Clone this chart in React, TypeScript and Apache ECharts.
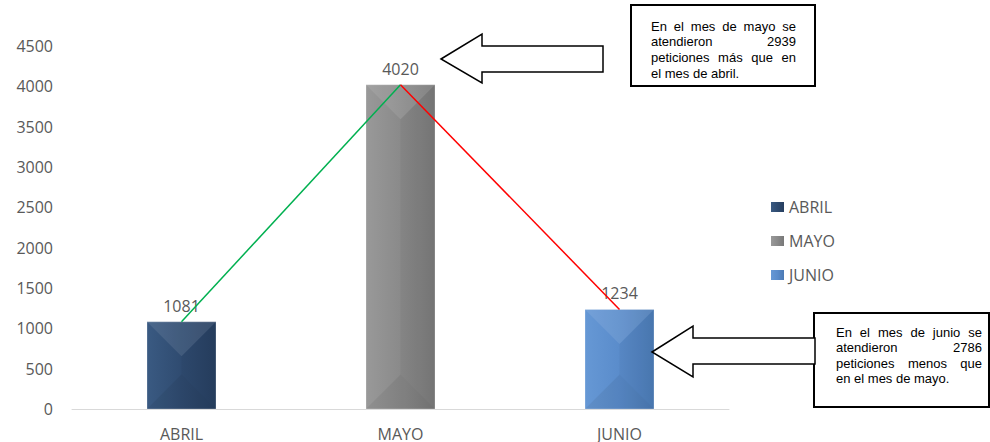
import React, { useEffect, useRef } from "react";
import * as echarts from "echarts";

const categories = ["ABRIL", "MAYO", "JUNIO"];
const seriesNames = ["ABRIL", "MAYO", "JUNIO"];
const values = [1081, 4020, 1234];
const yTicks = { min: 0, max: 4500, interval: 500 };
const riseLine = [1081, 4020, null];
const fallLine = [null, 4020, 1234];
const noteTop = ["En el mes de mayo se", "atendieron 2939", "peticiones más que en", "el mes de abril."];
const noteBottom = ["En el mes de junio se", "atendieron 2786", "peticiones menos que", "en el mes de mayo."];

const barColors = [
  ["#3A5A82", "#2F4B70", "#273F60"],
  ["#999999", "#8A8A8A", "#787878"],
  ["#6698D5", "#5A8CCB", "#4B7AB4"],
];

const NOTE_FONT = "13px 'Liberation Sans', Arial, sans-serif";
const BAR_W = 69;

function justify(lines: string[], x0: number, x1: number, y0: number, step: number) {
  const ctx = document.createElement("canvas").getContext("2d")!;
  ctx.font = NOTE_FONT;
  const out: any[] = [];
  lines.forEach((line, i) => {
    const y = y0 + i * step;
    const words = line.split(" ");
    const last = i === lines.length - 1;
    if (last || words.length < 2) {
      out.push({
        type: "text", x: x0, y, z: 20,
        style: { text: line, font: NOTE_FONT, fill: "#000", textAlign: "left", textVerticalAlign: "middle" },
      });
      return;
    }
    const widths = words.map((w) => ctx.measureText(w).width);
    const total = widths.reduce((a, b) => a + b, 0);
    const gap = (x1 - x0 - total) / (words.length - 1);
    let x = x0;
    words.forEach((w, k) => {
      out.push({
        type: "text", x, y, z: 20,
        style: { text: w, font: NOTE_FONT, fill: "#000", textAlign: "left", textVerticalAlign: "middle" },
      });
      x += widths[k] + gap;
    });
  });
  return out;
}

export default function App() {
  const ref = useRef<HTMLDivElement>(null);
  useEffect(() => {
    document.body.style.margin = "0";
    const chart = echarts.init(ref.current!, undefined, { renderer: "svg" });
    const labelFont = "'Open Sans', sans-serif";
    const bars = seriesNames.map((name, i) => ({
      name,
      type: "bar",
      barWidth: BAR_W,
      barGap: "-100%",
      data: values.map((v, k) => (k === i ? v : null)),
      itemStyle: {
        color: new echarts.graphic.LinearGradient(0, 0, 1, 0, [
          { offset: 0, color: barColors[i][0] },
          { offset: 0.5, color: barColors[i][1] },
          { offset: 1, color: barColors[i][2] },
        ]),
      },
      label: {
        show: true,
        position: "top",
        distance: 8,
        color: "#595959",
        fontSize: 16,
        fontFamily: labelFont,
      },
      z: 2,
    }));
    const bevel = {
      type: "custom",
      silent: true,
      z: 3,
      data: values.map((v, k) => [k, v]),
      renderItem: (params: any, api: any) => {
        const top = api.coord([api.value(0), api.value(1)]);
        const base = api.coord([api.value(0), 0]);
        const cx = top[0];
        const l = cx - BAR_W / 2;
        const r = cx + BAR_W / 2;
        const h = base[1] - top[1];
        const d = Math.min(BAR_W / 2, h / 2);
        return {
          type: "group",
          children: [
            {
              type: "polygon",
              shape: { points: [[l, top[1]], [r, top[1]], [cx, top[1] + d]] },
              style: { fill: "rgba(255,255,255,0.09)" },
            },
            {
              type: "polygon",
              shape: { points: [[l, base[1]], [r, base[1]], [cx, base[1] - d]] },
              style: { fill: "rgba(0,0,0,0.06)" },
            },
            {
              type: "polygon",
              shape: { points: [[r, top[1]], [r, base[1]], [cx, base[1] - d], [cx, top[1] + d]] },
              style: { fill: "rgba(0,0,0,0.03)" },
            },
            {
              type: "rect",
              shape: { x: l, y: top[1], width: BAR_W, height: h },
              style: { fill: "none", stroke: "rgba(255,255,255,0.25)", lineWidth: 1 },
            },
          ],
        };
      },
    };
    const graphics: any[] = [
      { type: "rect", z: 18, shape: { x: 631, y: 5, width: 184, height: 81 }, style: { fill: "#fff", stroke: "#000", lineWidth: 2 } },
      { type: "rect", z: 18, shape: { x: 814, y: 313, width: 175, height: 94 }, style: { fill: "#fff", stroke: "#000", lineWidth: 2 } },
      {
        type: "polygon", z: 18,
        shape: { points: [[441, 59], [482, 34], [482, 46], [603, 46], [603, 72], [482, 72], [482, 83]] },
        style: { fill: "#fff", stroke: "#000", lineWidth: 1.5 },
      },
      {
        type: "polygon", z: 18,
        shape: { points: [[652, 352], [693, 326], [693, 338], [815, 338], [815, 364], [693, 364], [693, 377]] },
        style: { fill: "#fff", stroke: "#000", lineWidth: 1.5 },
      },
      ...justify(noteTop, 651, 796, 26, 15.7),
      ...justify(noteBottom, 836, 982, 332, 15.5),
    ];
    chart.setOption({
      animation: false,
      backgroundColor: "#fff",
      grid: { left: 72, right: 261, top: 46, bottom: 29 },
      legend: {
        data: seriesNames,
        orient: "vertical",
        left: 766,
        top: 194,
        itemGap: 18,
        itemWidth: 13,
        itemHeight: 10,
        icon: "rect",
        textStyle: { color: "#595959", fontSize: 16, fontFamily: labelFont },
      },
      xAxis: {
        type: "category",
        data: categories,
        axisLine: { lineStyle: { color: "#D9D9D9" } },
        axisTick: { show: false },
        axisLabel: { color: "#595959", fontSize: 16, fontFamily: labelFont, margin: 17 },
      },
      yAxis: {
        type: "value",
        min: yTicks.min,
        max: yTicks.max,
        interval: yTicks.interval,
        axisLine: { show: false },
        axisTick: { show: false },
        splitLine: { show: false },
        axisLabel: {
          color: "#595959",
          fontSize: 16,
          fontFamily: labelFont,
          margin: 19,
          formatter: (v: number) => String(v),
        },
      },
      series: [
        ...bars,
        bevel,
        {
          type: "line",
          data: riseLine,
          symbol: "none",
          lineStyle: { color: "#00B050", width: 1.5 },
          z: 5,
          silent: true,
        },
        {
          type: "line",
          data: fallLine,
          symbol: "none",
          lineStyle: { color: "#FF0000", width: 1.5 },
          z: 5,
          silent: true,
        },
      ],
      graphic: graphics,
    });
    return () => chart.dispose();
  }, []);
  return <div ref={ref} style={{ width: 990, height: 442, position: "absolute", left: 0, top: 0 }} />;
}
